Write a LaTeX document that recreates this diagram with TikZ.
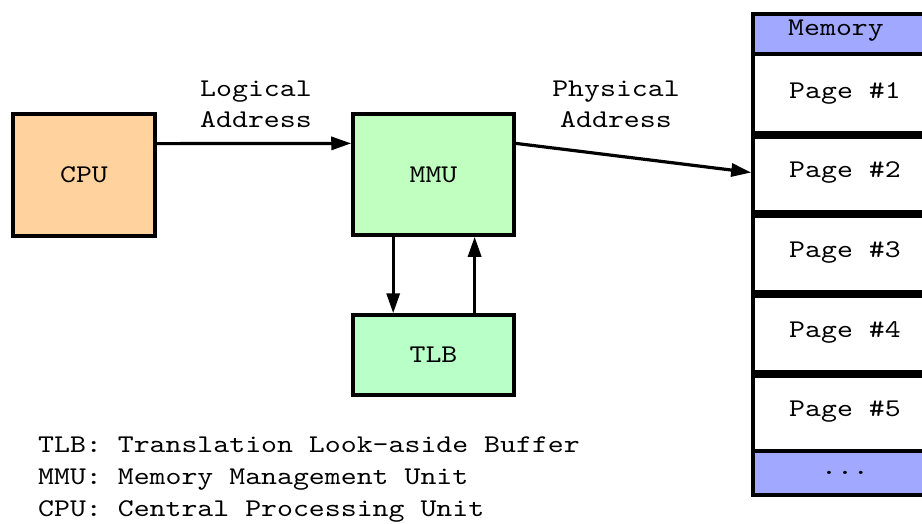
\documentclass[tikz,border=0pt]{standalone}
\usepackage{fontspec}
\newfontfamily\courfont{lmmono10-regular.otf}[FakeStretch=1.19]
\usetikzlibrary{arrows.meta,calc}
\definecolor{cpufill}{HTML}{FFD29E}
\definecolor{mmufill}{HTML}{C0FFC0}
\definecolor{tlbfill}{HTML}{B8FFC8}
\definecolor{memfill}{HTML}{A0A8FF}
\tikzset{
  txt/.style={font=\courfont\fontsize{25.5}{32}\selectfont},
  unitbox/.style={draw=black, line width=3.5pt, inner sep=0pt, txt},
  cell/.style={draw=black, line width=3.5pt, inner sep=0pt, minimum width=184pt, txt, fill=white},
  sep/.style={line width=7.5pt},
  conn/.style={line width=3.2pt, -{Triangle[length=20pt,width=13pt]}},
  lbl/.style={txt, align=center, inner sep=0pt, font=\courfont\fontsize{25.5}{31}\selectfont}
}
\begin{document}
\begin{tikzpicture}[x=1pt,y=-1pt]
\useasboundingbox (0,0) rectangle (922,523);
\fill[white] (0,0) rectangle (922,523);
% units
\node[unitbox, fill=cpufill, minimum width=142pt, minimum height=122pt] (cpu) at (84,175) {CPU};
\node[unitbox, fill=mmufill, minimum width=161pt, minimum height=121pt] (mmu) at (433.5,174.5) {MMU};
\node[unitbox, fill=tlbfill, minimum width=161pt, minimum height=80pt] (tlb) at (433.5,355) {TLB};
% memory column
\node[cell, fill=memfill, minimum height=40pt] (memhead) at (845,34) {};
\node[txt, inner sep=0pt] (memtitle) at (836,31) {Memory};
\node[cell, minimum height=79pt] (p1) at (845,93.5) {Page \#1};
\node[cell, minimum height=79pt] (p2) at (845,172.5) {Page \#2};
\node[cell, minimum height=80pt] (p3) at (845,252) {Page \#3};
\node[cell, minimum height=80pt] (p4) at (845,332) {Page \#4};
\node[cell, minimum height=79pt] (p5) at (845,411.5) {Page \#5};
\node[cell, fill=memfill, minimum height=44pt] (pdots) at (845,473) {...};
\foreach \a/\b in {p1/p2,p2/p3,p3/p4,p4/p5}
  \draw[sep] (\a.south west) -- (\a.south east);
% connectors
\coordinate (cpuout) at ($(cpu.north east)!0.25!(cpu.south east)$);
\coordinate (mmuin) at ($(mmu.north west)!0.25!(mmu.south west)$);
\coordinate (mmuout) at ($(mmu.north east)!0.25!(mmu.south east)$);
\draw[conn] (cpuout) -- (mmuin);
\draw[conn] (mmuout) -- (p2.west);
\draw[conn] ($(mmu.south west)!0.255!(mmu.south east)$) -- ($(tlb.north west)!0.255!(tlb.north east)$);
\draw[conn] ($(tlb.north west)!0.75!(tlb.north east)$) -- ($(mmu.south west)!0.75!(mmu.south east)$);
% labels
\node[lbl] (logl) at (256,104) {Logical\\Address};
\node[lbl] (phyl) at (616,104) {Physical\\Address};
% legend
\node[txt, align=left, anchor=north west, inner sep=0pt] (legend) at (38,437)
  {TLB: Translation Look-aside Buffer\\MMU: Memory Management Unit\\CPU: Central Processing Unit};
\end{tikzpicture}
\end{document}
